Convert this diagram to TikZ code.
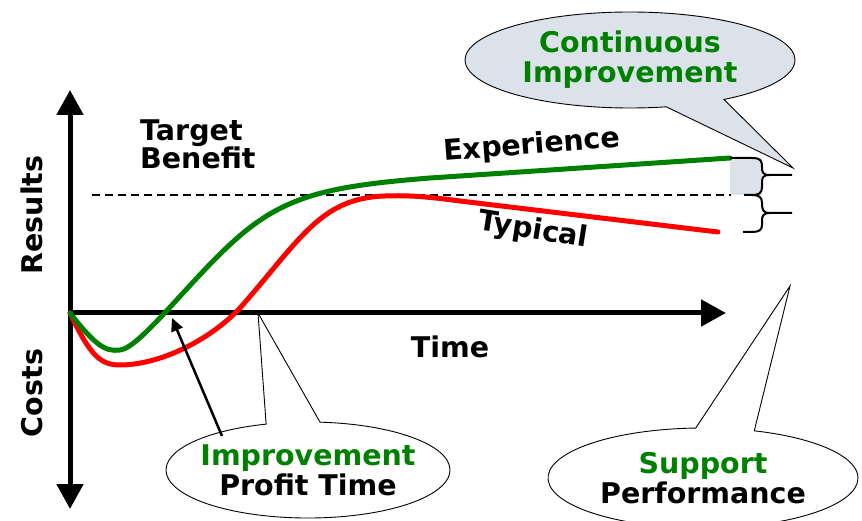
\documentclass[tikz,border=0pt]{standalone}
\usepackage{fontspec}
\setmainfont{DejaVu Sans}
\usetikzlibrary{arrows.meta,shapes.callouts,shapes.geometric}
\definecolor{dgreen}{RGB}{0,128,0}
\definecolor{bubble}{RGB}{220,226,234}
\begin{document}
\begin{tikzpicture}[x=1pt,y=-1pt,
 lbl/.style={font=\fontsize{28.5}{28}\selectfont\bfseries, inner sep=0pt},
 bubblenode/.style={ellipse callout, draw=black, line width=0.9pt, callout pointer arc=22, align=center,
   font=\fontsize{28.5}{30}\selectfont\bfseries, inner sep=0pt},
 axisline/.style={line width=5pt},
 curve/.style={line width=5pt, line cap=round},
 bracestyle/.style={line width=2pt, line join=round},
]
\clip (0,0) rectangle (862,521);
\fill[white] (0,0) rectangle (862,521);

% coordinates
\coordinate (O) at (70,313);
\coordinate (ytop) at (70,90);
\coordinate (ybot) at (70,509);
\coordinate (xend) at (726,313);
\coordinate (d1) at (92,195);
\coordinate (d2) at (731,195);

% shaded gap
\fill[bubble] (730,158) rectangle (762,195);

% dashed target line
\draw[line width=2.2pt, dash pattern=on 8pt off 5pt] (d1) -- (d2);

% axes
\draw[axisline, {Triangle[width=26pt,length=25pt]}-{Triangle[width=26pt,length=25pt]}] (ybot) -- (ytop);
\draw[axisline, -{Triangle[width=26pt,length=25pt]}] (O) -- (xend);

% curves
\draw[curve, red] (O) .. controls (90,355) and (100,365) .. (120,365)
  .. controls (160,365) and (210,340) .. (240,308)
  .. controls (300,240) and (320,198) .. (385,196)
  .. controls (410,195) and (430,197) .. (460,201) -- (718,232);
\draw[curve, dgreen] (O) .. controls (95,345) and (105,352) .. (120,350)
  .. controls (140,348) and (190,280) .. (235,240)
  .. controls (285,195) and (330,186) .. (430,178) -- (730,158);

% braces
\draw[bracestyle] (730,158) -- (752,158) .. controls (761,158) and (762,161) .. (762,167)
  .. controls (762,173) and (763,175) .. (770,175) -- (792,175);
\draw[bracestyle] (770,175) .. controls (763,175) and (762,177) .. (762,183)
  -- (762,187) .. controls (762,193) and (759,195) .. (752,195) -- (744,195);
\draw[bracestyle] (752,195) .. controls (759,195) and (762,197) .. (762,203)
  .. controls (762,210) and (763,213) .. (770,213) -- (792,213);
\draw[bracestyle] (770,213) .. controls (763,213) and (762,216) .. (762,221)
  -- (762,225) .. controls (762,230) and (759,232) .. (752,232) -- (743,232);

% labels
\node[lbl, align=left, anchor=north west] (tb) at (140,120) {Target\\Benefit};
\node[lbl, rotate=90] (res) at (32,215) {Results};
\node[lbl, rotate=90] (cost) at (32,393) {Costs};
\node[lbl] (time) at (450,347) {Time};
\node[lbl, rotate=4.5] (exp) at (532,146) {Experience};
\node[lbl, rotate=-9] (typ) at (533,231) {Typical};

% callouts
\coordinate (ciTip) at (793,168);
\node[bubblenode, fill=bubble, text=dgreen, minimum width=330, minimum height=96,
  callout absolute pointer={(ciTip)}] (ci) at (630,60) {Continuous\\Improvement};

\coordinate (ptTip) at (258,313);
\node[bubblenode, fill=white, inner xsep=-8pt, minimum width=284, minimum height=96,
  callout absolute pointer={(ptTip)}] (ipt) at (308,470) {\textcolor{dgreen}{Improvement}\\Profit Time};

\coordinate (spTip) at (790,286);
\node[bubblenode, fill=white, minimum width=310, minimum height=100,
  callout absolute pointer={(spTip)}] (sp) at (703,478) {\textcolor{dgreen}{Support}\\Performance};

% arrow to break-even of improvement
\coordinate (arrS) at (222,436);
\coordinate (arrE) at (172,318);
\draw[line width=2.5pt, -{Triangle[width=12pt,length=13pt]}] (arrS) -- (arrE);
\end{tikzpicture}
\end{document}
